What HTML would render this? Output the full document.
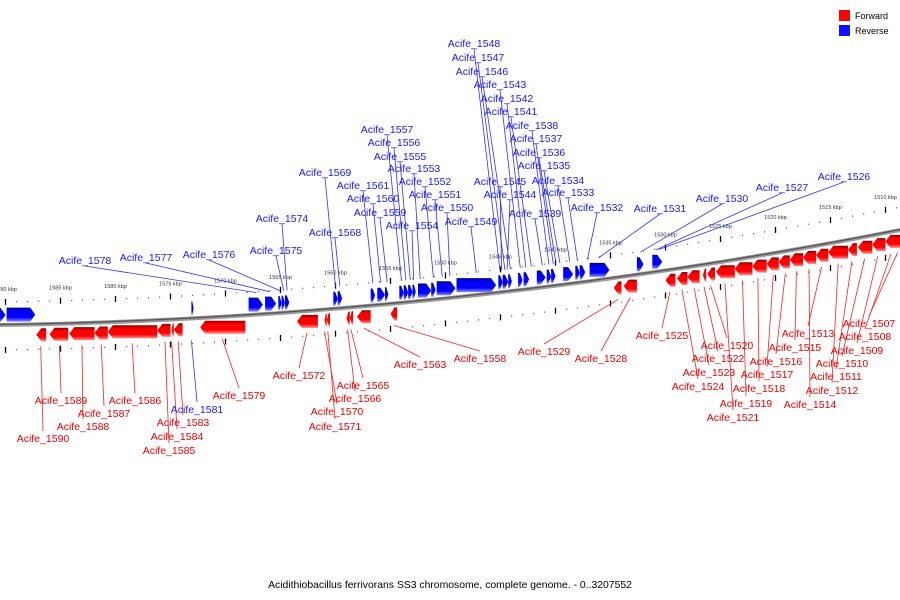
<!DOCTYPE html>
<html><head><meta charset="utf-8">
<style>
html,body{margin:0;padding:0;background:#fff;width:900px;height:600px;overflow:hidden}
svg{display:block}
text{font-family:"Liberation Sans",sans-serif}
</style></head>
<body>
<svg id="map" width="900" height="600" viewBox="0 0 900 600">
<defs>
<linearGradient id="gb" x1="0" y1="0" x2="0" y2="1"><stop offset="0" stop-color="#00008c"/><stop offset="0.25" stop-color="#0000ff"/><stop offset="0.7" stop-color="#0000ff"/><stop offset="1" stop-color="#8c8cff"/></linearGradient>
<linearGradient id="gr" x1="0" y1="0" x2="0" y2="1"><stop offset="0" stop-color="#8c0000"/><stop offset="0.25" stop-color="#ff0000"/><stop offset="0.7" stop-color="#ff0000"/><stop offset="1" stop-color="#ff8c8c"/></linearGradient>
</defs>
<g id="legend">
<rect x="839" y="10" width="11" height="11" fill="#ff0000"/>
<text x="855" y="19" font-size="9" fill="#000">Forward</text>
<rect x="839" y="25" width="11" height="11" fill="#1010ff"/>
<text x="855" y="34" font-size="9" fill="#000">Reverse</text>
</g>
<text x="450" y="588" font-size="10.4" text-anchor="middle" fill="#000">Acidithiobacillus ferrivorans SS3 chromosome, complete genome. - 0..3207552</text>
<g id="ticks"></g>
<g id="leaders"></g>
<g id="backbone"></g>
<g id="genes"></g>
<g id="labels"></g>
</svg>
<script>
// ---- data (kbp coordinates) ----
const tickMin = 1508;
const tickMax = 1591;
const reverseStart = [1591.0,1589.9,1573.1,1567.9,1566.4,1565.2,1564.9,1564.6,1560.2,1559.8,1556.8,1556.2,1555.5,1554.2,1553.8,1553.4,1553.0,1552.5,1551.3,1550.8,1549.0,1545.2,1544.8,1544.3,1543.4,1542.9,1541.7,1540.8,1540.4,1539.3,1538.2,1537.8,1536.9,1532.6,1531.2];
const reverseEnd   = [1590.0,1587.3,1572.9,1566.6,1565.4,1564.9,1564.6,1564.2,1559.8,1559.4,1556.4,1555.5,1555.2,1553.8,1553.4,1553.0,1552.7,1551.3,1550.9,1549.1,1545.4,1544.8,1544.3,1543.96,1543.0,1542.4,1540.9,1540.4,1540.0,1538.4,1537.8,1537.3,1535.1,1532.0,1530.3];
const forwardStart = [1587.2,1586.0,1584.2,1581.9,1580.7,1576.2,1574.9,1574.7,1572.3,1563.5,1561.0,1560.8,1559.0,1558.7,1558.05,1555.0,1534.7,1533.8,1530.0,1528.95,1528.0,1526.6,1526.2,1525.4,1523.7,1522.1,1520.8,1519.7,1518.7,1517.5,1516.3,1515.2,1513.4,1512.5,1511.2,1510.0];
const forwardEnd   = [1586.3,1584.3,1581.9,1580.7,1576.2,1575.0,1574.7,1573.9,1568.2,1561.6,1560.8,1560.5,1558.7,1558.4,1556.8,1554.4,1534.0,1532.6,1529.1,1528.0,1526.9,1526.3,1525.5,1523.7,1522.1,1520.8,1519.7,1518.7,1517.5,1516.3,1515.2,1513.4,1512.6,1511.2,1510.0,1508.2];
const revLabelNames = ["Acife_1578","Acife_1577","Acife_1576","Acife_1575","Acife_1574","Acife_1569","Acife_1568","Acife_1561","Acife_1560","Acife_1559","Acife_1557","Acife_1556","Acife_1555","Acife_1554","Acife_1553","Acife_1552","Acife_1551","Acife_1550","Acife_1549","Acife_1548","Acife_1547","Acife_1546","Acife_1545","Acife_1544","Acife_1543","Acife_1542","Acife_1541","Acife_1539","Acife_1538","Acife_1537","Acife_1536","Acife_1535","Acife_1534","Acife_1533","Acife_1532","Acife_1531","Acife_1530","Acife_1527","Acife_1526"];
const revLabelTarget = [1567.2,1566.0,1565.0,1564.7,1564.4,1560.0,1559.6,1556.6,1555.9,1555.3,1554.0,1553.6,1553.2,1552.9,1552.3,1551.1,1550.3,1549.6,1547.2,1545.05,1544.6,1544.1,1544.9,1544.4,1543.2,1542.7,1542.2,1541.2,1540.6,1540.2,1539.95,1539.6,1538.7,1538.0,1537.1,1536.1,1532.3,1530.9,1530.6];
const revLabelX = [85,146,209,276,282,325,335,363,373,380,387,394,400,412,414,425,435,447,471,474,478,482,500,510,500,507,511,535,532,536,539,544,558,568,597,660,722,782,844];
const revLabelY = [260,257,254,250,218,172,232,185,198,212,129,142,156,225,168,181,194,207,221,43,57,71,181,194,84,98,111,213,125,138,152,165,180,192,207,208,198,187,176];
const fwdLabelNames = ["Acife_1590","Acife_1589","Acife_1588","Acife_1587","Acife_1586","Acife_1585","Acife_1584","Acife_1583","Acife_1579","Acife_1572","Acife_1570","Acife_1571","Acife_1566","Acife_1565","Acife_1563","Acife_1558","Acife_1529","Acife_1528","Acife_1525","Acife_1524","Acife_1523","Acife_1522","Acife_1520","Acife_1521","Acife_1519","Acife_1518","Acife_1517","Acife_1516","Acife_1515","Acife_1514","Acife_1513","Acife_1512","Acife_1511","Acife_1510","Acife_1509","Acife_1508","Acife_1507"];
const fwdLabelTarget = [1586.8,1585.1,1583.05,1581.3,1578.5,1575.5,1574.9,1574.3,1570.3,1562.6,1561.0,1560.7,1558.9,1558.6,1557.4,1554.7,1534.3,1533.2,1529.6,1528.5,1527.4,1526.5,1525.9,1524.6,1523.0,1521.6,1520.2,1519.1,1518.1,1516.95,1515.8,1514.3,1513.05,1511.9,1510.7,1509.5,1508.9];
const fwdLabelX = [43,61,83,104,135,169,177,183,239,299,337,335,355,363,420,480,544,601,662,698,709,718,727,733,746,759,767,776,795,810,808,832,836,842,857,865,869];
const fwdLabelY = [438,400,426,413,400,450,436,422,395,375,411,426,398,385,364,358,351,358,335,386,372,358,345,417,403,388,374,361,347,404,333,390,376,363,350,336,323];
const extraLabelNames = ["Acife_1581"];
const extraLabelTarget = [1573.1];
const extraLabelX = [197];
const extraLabelY = [409];

// ---- scales ----
const xOf = kbp => (1590.5 - kbp) * 11;
const yOf = x => 325 - 0.0148 * x - 1.008e-4 * x * x;
const NS = "http://www.w3.org/2000/svg";
function mk(tag, attrs, parent) {
  const e = document.createElementNS(NS, tag);
  for (const k in attrs) e.setAttribute(k, attrs[k]);
  parent.appendChild(e);
  return e;
}
const gT = document.getElementById('ticks'), gB = document.getElementById('backbone'),
      gG = document.getElementById('genes'), gL = document.getElementById('labels'),
      gLd = document.getElementById('leaders');

// backbone
let d = "";
for (let x = -5; x <= 905; x += 5) d += (x === -5 ? "M" : "L") + x + "," + yOf(x).toFixed(2);
const bb1 = mk('path', {d: d, stroke: '#9a9a9a', 'stroke-width': 4, fill: 'none'}, gB);


const bb2 = mk('path', {d: d, stroke: '#555', 'stroke-width': 1.3, fill: 'none', transform: 'translate(0,-0.5)'}, gB);



// ticks
for (let k = tickMin; k <= tickMax; k++) {
  const x = xOf(k);
  if (x < -2 || x > 902) continue;
  const y = yOf(x);
  const major = k % 5 === 0;
  [-23, 25].forEach(off => {
    if (major) {
      const t = mk('line', {x1: x, x2: x, y1: y + off - 3, y2: y + off + 3, stroke: '#000', 'stroke-width': 1.3}, gT);
      
      
    } else {
      const t = mk('rect', {x: x - 0.6, y: y + off - 0.6, width: 1.3, height: 1.3, fill: '#777'}, gT);
      
      
    }
  });
  if (major) {
    const lb = mk('text', {x: x, y: y - 34, 'font-size': 5.5, 'text-anchor': 'middle', fill: '#333'}, gT);
    lb.textContent = k + " kbp";
    
    
  }
}

// genes
function gene(s, e, strand, i) {
  const x1 = xOf(s), x2 = xOf(e);
  const len = x2 - x1;
  const ah = Math.min(5, len * 0.6);
  const yc = yOf((x1 + x2) / 2);
  let pts;
  if (strand > 0) {
    const t = yc - 17, b = yc - 3, m = (t + b) / 2;
    pts = [[x1, t], [x2 - ah, t], [x2, m], [x2 - ah, b], [x1, b]];
  } else {
    const t = yc + 4, b = yc + 17, m = (t + b) / 2;
    pts = [[x1 + ah, t], [x2, t], [x2, b], [x1 + ah, b], [x1, m]];
  }
  const p = mk('polygon', {points: pts.map(q => q.map(v => v.toFixed(1)).join(",")).join(" "), fill: strand > 0 ? 'url(#gb)' : 'url(#gr)'}, gG);
  
  
}
for (let i = 0; i < reverseStart.length; i++) gene(reverseStart[i], reverseEnd[i], 1, i);
for (let i = 0; i < forwardStart.length; i++) gene(forwardStart[i], forwardEnd[i], -1, i);

// labels
function label(name, tk, lx, ly, color, above) {
  const gx = xOf(tk), gy = yOf(gx);
  const l = mk('line', above
      ? {x1: lx, y1: ly + 6, x2: gx, y2: gy - 22}
      : {x1: lx, y1: ly - 7, x2: gx, y2: gy + 22}, gLd);
  l.setAttribute('stroke', color === 'blue' ? '#3030ff' : '#ff2020');
  l.setAttribute('stroke-width', 0.8);
  
  
  const t = mk('text', {x: lx, y: ly + 4, 'font-size': 10.5, 'text-anchor': 'middle', fill: color === 'blue' ? '#1818ff' : '#ee0000'}, gL);
  t.textContent = name;
  
  
}
for (let i = 0; i < revLabelNames.length; i++) label(revLabelNames[i], revLabelTarget[i], revLabelX[i], revLabelY[i], 'blue', true);
for (let i = 0; i < fwdLabelNames.length; i++) label(fwdLabelNames[i], fwdLabelTarget[i], fwdLabelX[i], fwdLabelY[i], 'red', false);
for (let i = 0; i < extraLabelNames.length; i++) label(extraLabelNames[i], extraLabelTarget[i], extraLabelX[i], extraLabelY[i], 'blue', false);
</script>
</body></html>
